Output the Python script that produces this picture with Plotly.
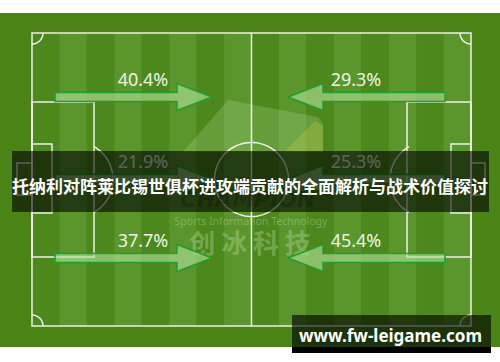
import numpy as np
import plotly.graph_objects as go

# ---------------- data ----------------
rows = ["top", "middle", "bottom"]
left_values = [40.4, 21.9, 37.7]     # arrows pointing right (left half)
right_values = [29.3, 25.3, 45.4]    # arrows pointing left (right half)
title_text = "托纳利对阵莱比锡世俱杯进攻端贡献的全面解析与战术价值探讨"
site_text = "www.fw-leigame.com"

# ---------------- layout constants ----------------
W, H = 500, 362
PX0, PX1, PY0, PY1 = 32, 471, 33, 326
CX, CY = (PX0 + PX1) / 2, (PY0 + PY1) / 2
row_y = [97, 179, 258]
label_dy = -16
LINE = "rgba(245,245,240,0.95)"

fig = go.Figure()
shapes = []

# background
shapes.append(dict(type="rect", x0=0, x1=W, y0=13, y1=347, fillcolor="#4a8415",
                   line_width=0, layer="below"))
# stripes
n = 16
sw = (PX1 - PX0) / n
for i in range(n):
    col = "#4c881b" if i % 2 == 0 else "#5a962b"
    shapes.append(dict(type="rect", x0=PX0 + i * sw, x1=PX0 + (i + 1) * sw, y0=PY0, y1=PY1,
                       fillcolor=col, line_width=0, layer="below"))

# watermark logo shapes
shapes.append(dict(type="path", path="M228,100 L318,117 L323,124 L323,152 L183,152 Z",
                   fillcolor="rgba(195,232,175,0.22)", line_width=0, layer="below"))
shapes.append(dict(type="path", path="M315,121 L323,126 L323,152 L284,152 Z",
                   fillcolor="rgba(215,210,70,0.25)", line_width=0, layer="below"))


def line(x0, y0, x1, y1):
    shapes.append(dict(type="line", x0=x0, y0=y0, x1=x1, y1=y1,
                       line=dict(color=LINE, width=1.5), layer="below"))


def rect(x0, y0, x1, y1):
    shapes.append(dict(type="rect", x0=x0, y0=y0, x1=x1, y1=y1,
                       line=dict(color=LINE, width=1.5), fillcolor="rgba(0,0,0,0)", layer="below"))


def arc(cx, cy, r, a0, a1, npts=40):
    t = np.linspace(np.radians(a0), np.radians(a1), npts)
    xs = cx + r * np.cos(t)
    ys = cy + r * np.sin(t)
    p = "M" + " L".join(f"{x:.2f},{y:.2f}" for x, y in zip(xs, ys))
    shapes.append(dict(type="path", path=p, line=dict(color=LINE, width=1.5), layer="below"))


# pitch lines
rect(PX0, PY0, PX1, PY1)
line(CX, PY0, CX, PY1)
arc(CX, CY, 37, 0, 360, 80)
# penalty boxes
rect(PX0, 102, 94, 257)
rect(407, 102, PX1, 257)
rect(PX0, 144, 52, 213)
rect(451, 144, PX1, 213)
# goals
rect(17, 163, PX0, 195)
rect(PX1, 163, 485, 195)
# penalty arcs
ang = np.degrees(np.arccos(19 / 38))
arc(75, CY, 38, -ang, ang)
arc(428, CY, 38, 180 - ang, 180 + ang)
# corner arcs
arc(PX0, PY0, 11, 0, 90, 20)
arc(PX1, PY0, 11, 90, 180, 20)
arc(PX0, PY1, 11, -90, 0, 20)
arc(PX1, PY1, 11, 180, 270, 20)

# ---------------- arrows ----------------
def arrow_pts(tail, base, tip, y, sh=4.5, hh=13.5):
    xs = [tail, base, base, tip, base, base, tail, tail]
    ys = [y - sh, y - sh, y - hh, y, y + hh, y + sh, y + sh, y - sh]
    return xs, ys


# watermark texts (under the arrows)
fig.add_trace(go.Scatter(x=[248], y=[201], mode="text", text=["<b><i>CHAMPION</i></b>"],
                         textfont=dict(family="DejaVu Sans", size=22, color="rgba(20,50,10,0.30)"),
                         hoverinfo="skip", showlegend=False))
fig.add_trace(go.Scatter(x=[251], y=[222], mode="text", text=["Sports Information Technology"],
                         textfont=dict(family="Noto Sans", size=10.5, color="rgba(210,235,195,0.35)"),
                         hoverinfo="skip", showlegend=False))
fig.add_trace(go.Scatter(x=[250], y=[246], mode="text", text=["<b>创 冰 科 技</b>"],
                         textfont=dict(family="Noto Sans CJK SC", size=26, color="rgba(215,240,200,0.30)"),
                         hoverinfo="skip", showlegend=False))

for yy, lv, rv in zip(row_y, left_values, right_values):
    for (tail, base, tip) in [(55, 177, 212), (445, 323, 288)]:
        xs, ys = arrow_pts(tail, base, tip, yy)
        fig.add_trace(go.Scatter(x=xs, y=ys, mode="lines", fill="toself",
                                 fillcolor="rgba(178,225,155,0.62)",
                                 line=dict(color="#1fa02c", width=1.5),
                                 hoverinfo="skip", showlegend=False))
    fig.add_trace(go.Scatter(x=[143, 356], y=[yy + label_dy] * 2, mode="text",
                             text=[f"{lv}%", f"{rv}%"],
                             textfont=dict(family="Noto Sans", size=18, color="#eef5e6"),
                             hoverinfo="skip", showlegend=False))

# title banner
shapes.append(dict(type="rect", x0=12, x1=489, y0=151, y1=212,
                   fillcolor="rgba(0,0,0,0.6)", line_width=0, layer="above"))
# site banner
shapes.append(dict(type="rect", x0=292, x1=491, y0=315, y1=347,
                   fillcolor="rgba(0,0,0,0.62)", line_width=0, layer="above"))
shapes.append(dict(type="rect", x0=292, x1=491, y0=347, y1=353,
                   fillcolor="#000000", line_width=0, layer="above"))

annotations = [
    dict(x=250, y=185, xref="x", yref="y", text=f"<b>{title_text}</b>", showarrow=False,
         font=dict(family="Noto Sans CJK SC", size=17, color="#ffffff"), xanchor="center", yanchor="middle"),
    dict(x=390, y=335, xref="x", yref="y", text=f"<b>{site_text}</b>", showarrow=False,
         font=dict(family="Noto Sans", size=17, color="#ffffff"), xanchor="center", yanchor="middle"),
]

fig.update_layout(
    width=W, height=H, autosize=False,
    margin=dict(l=0, r=0, t=0, b=0, pad=0),
    paper_bgcolor="#ffffff", plot_bgcolor="#ffffff",
    xaxis=dict(range=[0, W], visible=False, fixedrange=True),
    yaxis=dict(range=[H, 0], visible=False, fixedrange=True),
    shapes=shapes, annotations=annotations, showlegend=False,
)

fig.write_html("out.html", config={"displayModeBar": False})
